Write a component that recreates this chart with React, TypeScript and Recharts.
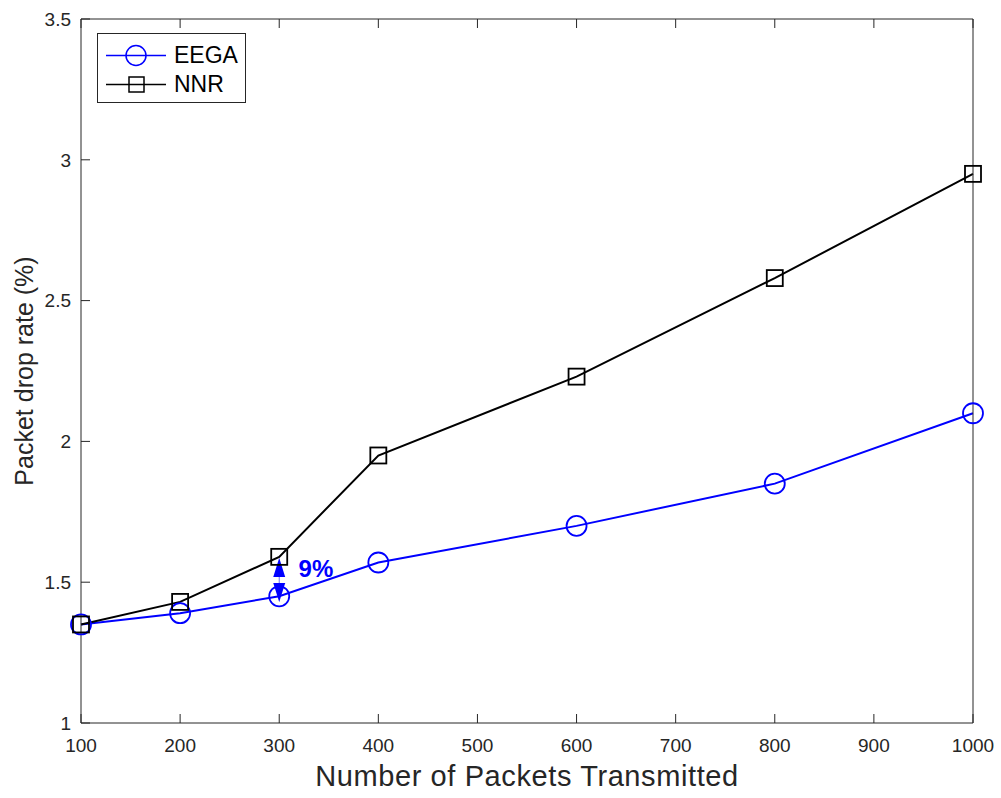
import React from 'react'
import {
  LineChart,
  Line,
  XAxis,
  YAxis,
  Legend,
  ReferenceLine,
  ReferenceDot,
} from 'recharts'

const packets = [100, 200, 300, 400, 600, 800, 1000]
const eegaRate = [1.35, 1.39, 1.45, 1.57, 1.7, 1.85, 2.1]
const nnrRate = [1.35, 1.43, 1.59, 1.95, 2.23, 2.58, 2.95]
const xTicks = [100, 200, 300, 400, 500, 600, 700, 800, 900, 1000]
const yTicks = [1, 1.5, 2, 2.5, 3, 3.5]

// gap annotation between the two series at 300 packets
const gapAt = 300
const gapTop = 1.586
const gapBottom = 1.43
const gapText = '9%'

const data = packets.map((p, i) => ({ packets: p, eega: eegaRate[i], nnr: nnrRate[i] }))

const BLUE = '#0000ff'
const AXIS = '#262626'
const FONT = '"Liberation Sans", Arial, Helvetica, sans-serif'

const SquareDot = (props: any) => {
  const { cx, cy, index } = props
  if (cx == null || cy == null) return null
  return (
    <rect
      key={`sq-${index}`}
      x={cx - 8}
      y={cy - 8}
      width={16}
      height={16}
      fill="none"
      stroke="#000"
      strokeWidth={1.8}
    />
  )
}

const GapArrow = (props: any) => {
  const { x1, y1, x2, y2 } = props
  if (x1 == null) return null
  const top = Math.min(y1, y2)
  const bot = Math.max(y1, y2)
  const x = x1
  return (
    <g>
      <line x1={x} y1={top + 16} x2={x} y2={bot - 16} stroke="#6b6bff" strokeWidth={1} />
      <polygon points={`${x},${top} ${x - 6},${top + 19} ${x + 6},${top + 19}`} fill={BLUE} />
      <polygon points={`${x},${bot} ${x - 6},${bot - 19} ${x + 6},${bot - 19}`} fill={BLUE} />
    </g>
  )
}

const LegendBox = () => (
  <div
    style={{
      width: 149,
      height: 70,
      border: `1px solid ${AXIS}`,
      background: '#fff',
      fontFamily: FONT,
      fontSize: 23,
      color: '#000',
      boxSizing: 'border-box',
    }}
  >
    <div style={{ display: 'flex', alignItems: 'center', height: 29, marginTop: 7 }}>
      <svg width={76} height={29}>
        <line x1={8} y1={14.5} x2={68} y2={14.5} stroke={BLUE} strokeWidth={1.5} />
        <circle cx={38} cy={14.5} r={10} fill="none" stroke={BLUE} strokeWidth={1.5} />
      </svg>
      <span>EEGA</span>
    </div>
    <div style={{ display: 'flex', alignItems: 'center', height: 29 }}>
      <svg width={76} height={29}>
        <line x1={8} y1={14.5} x2={68} y2={14.5} stroke="#000" strokeWidth={1.5} />
        <rect x={31} y={7} width={15} height={15} fill="none" stroke="#000" strokeWidth={1.5} />
      </svg>
      <span>NNR</span>
    </div>
  </div>
)

const YTitle = (props: any) => {
  const { viewBox } = props
  const y = viewBox.y + viewBox.height / 2
  const x = 24
  return (
    <text
      x={x}
      y={y}
      transform={`rotate(-90 ${x} ${y})`}
      textAnchor="middle"
      dominantBaseline="central"
      fontFamily={FONT}
      fontSize={25}
      fill={AXIS}
    >
      Packet drop rate (%)
    </text>
  )
}

export default function App() {
  return (
    <div style={{ position: 'absolute', left: 0, top: 0, width: 1001, height: 798, background: '#fff' }}>
      <LineChart
        width={1001}
        height={798}
        data={data}
        margin={{ top: 9, right: 18, bottom: 15, left: 21 }}
      >
        <XAxis
          dataKey="packets"
          type="number"
          domain={[100, 1000]}
          ticks={xTicks}
          height={60}
          tickSize={-9}
          tickMargin={25}
          stroke={AXIS}
          tick={{ fill: AXIS, fontSize: 19, fontFamily: FONT }}
          label={{
            value: 'Number of Packets Transmitted',
            position: 'insideBottom',
            offset: -3,
            fill: AXIS,
            fontSize: 29,
            fontFamily: FONT,
            letterSpacing: 0.6,
          }}
        />
        <XAxis
          xAxisId="top"
          dataKey="packets"
          type="number"
          orientation="top"
          domain={[100, 1000]}
          ticks={xTicks}
          height={10}
          tickSize={-9}
          stroke={AXIS}
          tickFormatter={() => ''}
        />
        <YAxis
          type="number"
          domain={[1, 3.5]}
          ticks={yTicks}
          width={60}
          tickSize={-9}
          tickMargin={19}
          stroke={AXIS}
          tick={{ fill: AXIS, fontSize: 19, fontFamily: FONT }}
          label={{ content: <YTitle /> }}
        />
        <YAxis
          yAxisId="right"
          type="number"
          orientation="right"
          domain={[1, 3.5]}
          ticks={yTicks}
          width={10}
          tickSize={-9}
          stroke={AXIS}
          tickFormatter={() => ''}
        />
        <Legend
          layout="vertical"
          align="center"
          verticalAlign="middle"
          content={<LegendBox />}
          wrapperStyle={{ top: 33, left: 97, width: 149, height: 70 }}
        />
        <Line
          dataKey="eega"
          name="EEGA"
          stroke={BLUE}
          strokeWidth={2}
          dot={{ r: 10, fill: 'none', stroke: BLUE, strokeWidth: 1.8 }}
          activeDot={false}
          isAnimationActive={false}
        />
        <Line
          dataKey="nnr"
          name="NNR"
          stroke="#000"
          strokeWidth={2}
          dot={SquareDot}
          activeDot={false}
          isAnimationActive={false}
        />
        <ReferenceLine
          segment={[
            { x: gapAt, y: gapTop },
            { x: gapAt, y: gapBottom },
          ]}
          shape={GapArrow}
        />
        <ReferenceDot
          x={337}
          y={1.548}
          r={0}
          fill="none"
          stroke="none"
          label={{
            value: gapText,
            position: 'center',
            fill: BLUE,
            fontSize: 24,
            fontWeight: 'bold',
            fontFamily: FONT,
          }}
        />
      </LineChart>
    </div>
  )
}
